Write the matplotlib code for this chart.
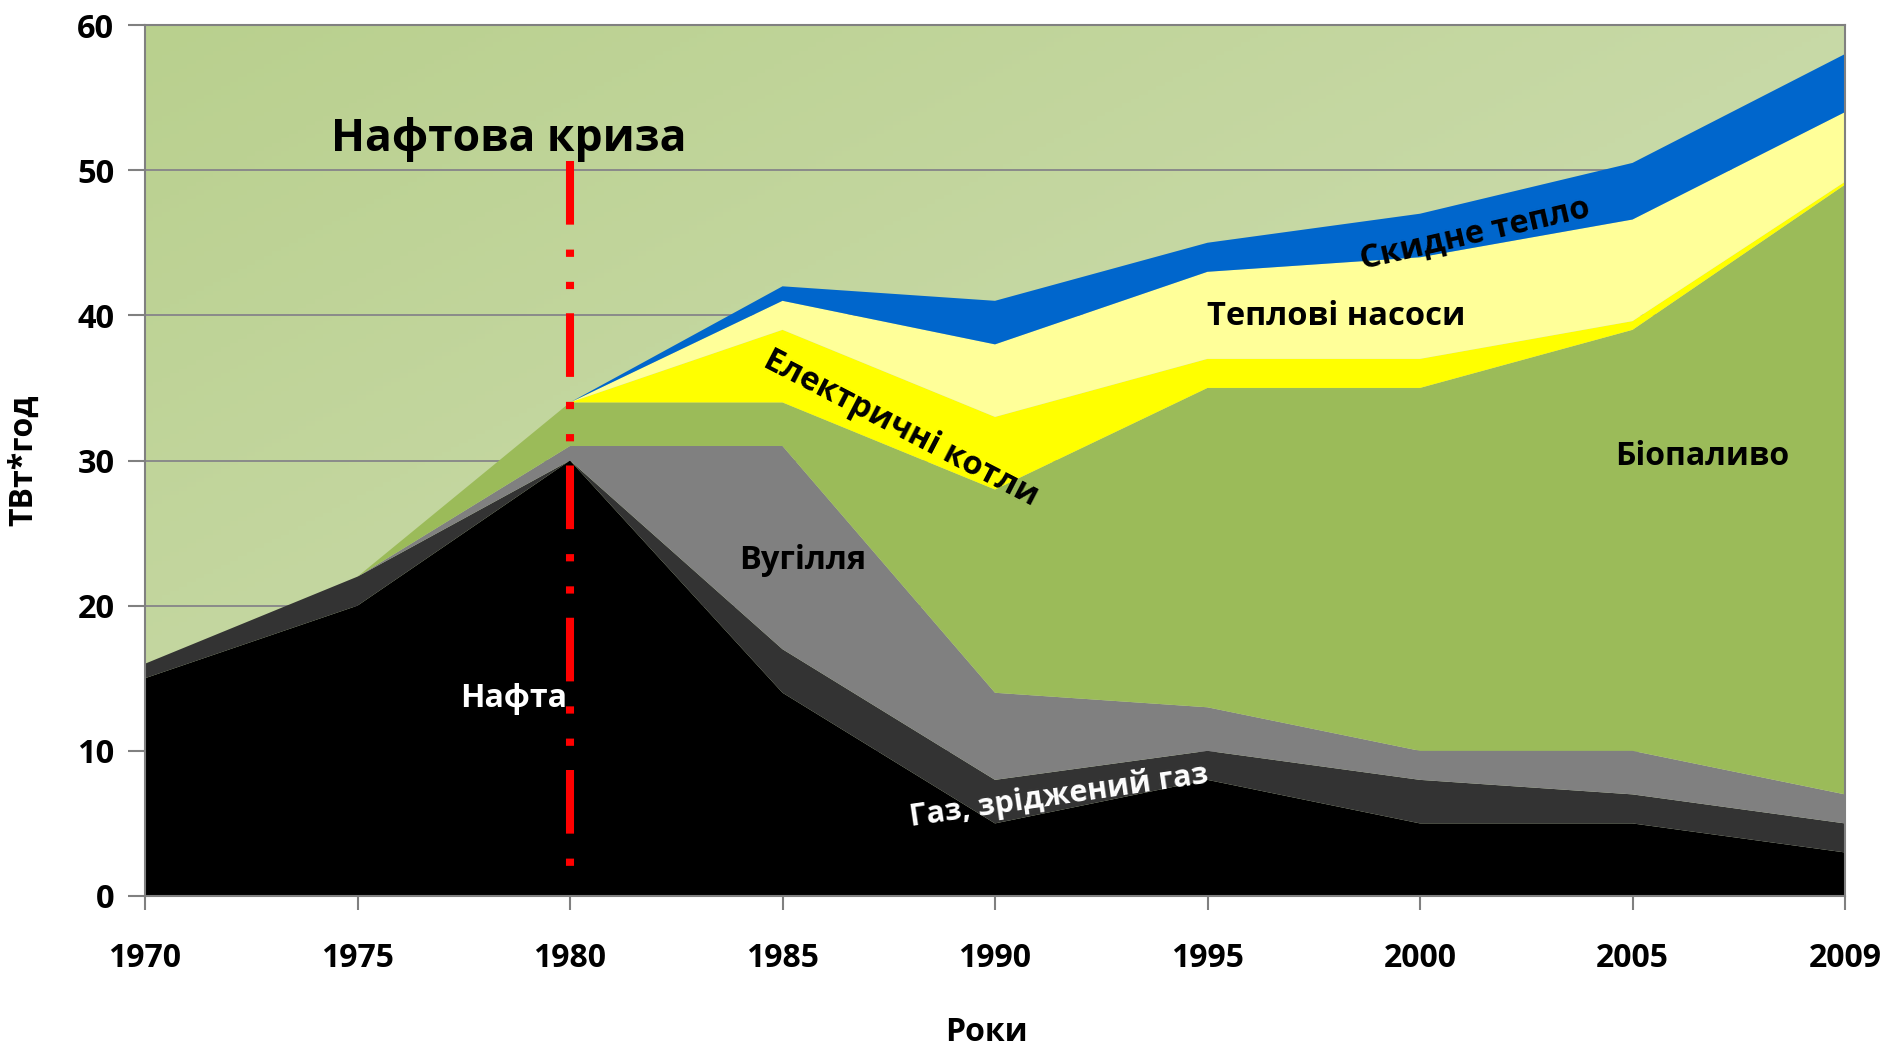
import numpy as np
import matplotlib
matplotlib.use("Agg")
import matplotlib.pyplot as plt

# ---------------- data ----------------
years = ["1970", "1975", "1980", "1985", "1990", "1995", "2000", "2005", "2009"]
oil        = [15, 20, 30, 14, 5, 8, 5, 5, 3]
gas        = [1, 2, 0, 3, 3, 2, 3, 2, 2]
coal       = [0, 0, 1, 14, 6, 3, 2, 3, 2]
biofuel    = [0, 0, 3, 3, 14, 22, 25, 29, 42]
electric   = [0, 0, 0, 5, 5, 2, 2, 0.6, 0.2]
heat_pumps = [0, 0, 0, 2, 5, 6, 7, 7, 4.8]
waste_heat = [0, 0, 0, 1, 3, 2, 3, 3.9, 4]
series_names = ["Нафта", "Газ, зріджений газ", "Вугілля", "Біопаливо",
                "Електричні котли", "Теплові насоси", "Скидне тепло"]
y_ticks = [0, 10, 20, 30, 40, 50, 60]
crisis_year = "1980"
crisis_span = [50.6, 2.1]

colors = ["#000000", "#333333", "#808080", "#9BBB59", "#FFFF00", "#FFFF99", "#0066CC"]

FONT = ["Open Sans", "DejaVu Sans"]
plt.rcParams["font.family"] = FONT
plt.rcParams["font.weight"] = "bold"

W, H = 1891, 1049
fig = plt.figure(figsize=(W / 100, H / 100), dpi=100)
left, right, top, bottom = 145, 1845, 25, 896
ax = fig.add_axes([left / W, 1 - bottom / H, (right - left) / W, (bottom - top) / H])

x = np.arange(len(years))
ax.set_xlim(0, len(years) - 1)
ax.set_ylim(0, 60)

# background gradient
c0 = np.array([185, 208, 142]) / 255
c1 = np.array([214, 226, 190]) / 255
gx, gy = np.meshgrid(np.linspace(0, 1, 200), np.linspace(0, 1, 200))
t = (gx + gy) / 2
img = c0[None, None, :] + (c1 - c0)[None, None, :] * t[:, :, None]
ax.imshow(img, extent=[0, len(years) - 1, 0, 60], aspect="auto", origin="upper", zorder=0)

ax.set_axisbelow(True)
ax.grid(axis="y", color="#8a8a8a", linewidth=1.4)
ax.grid(axis="x", visible=False)

ax.stackplot(x, oil, gas, coal, biofuel, electric, heat_pumps, waste_heat,
             colors=colors, linewidth=0, zorder=2)

# crisis line
ci = years.index(crisis_year)
ax.plot([ci, ci], crisis_span, color="#FF0000", linewidth=5.8,
        linestyle=(0, (7.9, 3.1, 0.9, 3.1, 0.9, 3.0)),
        dash_capstyle="butt", zorder=4)

# axes styling
ax.set_xticks(x)
ax.set_xticklabels(years)
ax.set_yticks(y_ticks)
for s in ["left", "bottom", "right", "top"]:
    ax.spines[s].set_color("#808080")
    ax.spines[s].set_linewidth(1.5)
ax.tick_params(axis="x", direction="out", length=10, width=1.5, color="#808080",
               pad=23, labelsize=23)
ax.tick_params(axis="y", direction="out", length=12, width=1.5, color="#808080",
               pad=10, labelsize=23.5)
for lab in ax.get_xticklabels() + ax.get_yticklabels():
    lab.set_fontweight("bold")

ax.set_ylabel("ТВт*год", fontsize=23, fontweight="bold")
ax.yaxis.set_label_coords(-0.0712, 0.5)
ax.yaxis.label.set_va("center")
ax.set_xlabel("Роки", fontsize=23, fontweight="bold")
ax.xaxis.set_label_coords(0.495, -0.157)
ax.xaxis.label.set_va("center")

# annotations
def lbl(xx, yy, s, size=23.5, color="black", rot=0):
    ax.text(xx, yy, s, fontsize=size, color=color, fontweight="bold",
            ha="center", va="center", rotation=rot, rotation_mode="anchor", zorder=5)

lbl(1.71, 52.1, "Нафтова криза", size=32)
lbl(1.736, 13.6, series_names[0], size=23, color="white")
lbl(4.301, 6.9, series_names[1], color="white", rot=8.3, size=22)
lbl(3.096, 23.1, series_names[2])
lbl(7.327, 30.3, series_names[3], size=23)
lbl(3.557, 32.2, series_names[4], rot=-27.4, size=23.5)
lbl(5.605, 39.9, series_names[5])
lbl(6.26, 45.6, series_names[6], rot=13, size=23.5)

fig.savefig("out.png", dpi=100)
